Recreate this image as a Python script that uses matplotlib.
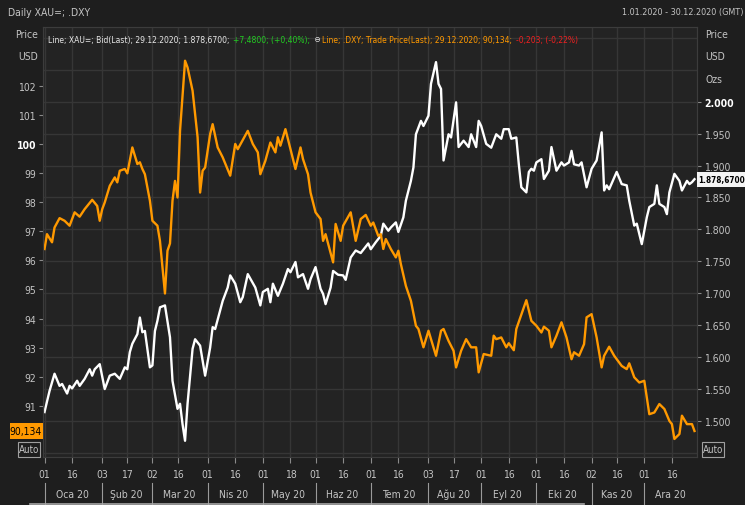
import matplotlib
matplotlib.use("Agg")
import matplotlib.pyplot as plt
import pandas as pd
from matplotlib.patches import Rectangle
from matplotlib.transforms import blended_transform_factory

# trading day number in 2020 (0 = 1 Jan) -> level
dxy_day = [0, 1, 3, 4, 6, 8, 10, 12, 14, 16,
           19, 21, 22, 23, 24, 26, 28, 29, 30, 32,
           33, 35, 37, 38, 39, 40, 42, 43, 45, 46,
           47, 48, 49, 50, 51, 52, 53, 54, 56, 57,
           59, 61, 62, 63, 64, 66, 67, 69, 71, 74,
           76, 77, 81, 83, 85, 86, 88, 90, 92, 93,
           94, 96, 98, 100, 102, 103, 105, 106, 108, 110,
           111, 112, 115, 116, 118, 119, 122, 124, 126, 128,
           130, 131, 133, 134, 135, 136, 138, 140, 141, 142,
           144, 146, 148, 149, 151, 153, 156, 158, 159, 161,
           163, 164, 166, 168, 170, 172, 173, 175, 178, 179,
           180, 182, 184, 185, 187, 188, 191, 192, 194, 196,
           198, 199, 201, 202, 204, 206, 208, 210, 211, 213,
           215, 216, 218, 220, 222, 223, 225, 227, 230, 232,
           233, 235, 237, 239, 240, 241, 243, 245, 247, 249,
           250, 251, 253, 254, 256, 258, 259]
dxy_val = [96.39, 96.90, 96.62, 97.13, 97.45, 97.36, 97.19, 97.65, 97.50, 97.76,
           98.08, 97.87, 97.36, 97.76, 97.99, 98.56, 98.85, 98.68, 99.08, 99.14,
           98.99, 99.88, 99.31, 99.37, 99.14, 98.96, 98.05, 97.36, 97.19, 96.67,
           95.76, 94.86, 96.33, 96.58, 98.05, 98.73, 98.16, 100.45, 102.86, 102.63,
           101.83, 100.23, 98.33, 99.08, 99.19, 100.34, 100.68, 99.88, 99.54, 98.91,
           100.00, 99.82, 100.45, 100.00, 99.71, 98.96, 99.42, 100.05, 99.71, 100.23,
           99.94, 100.51, 99.82, 99.14, 99.88, 99.48, 98.96, 98.33, 97.65, 97.42,
           96.67, 96.90, 95.93, 97.25, 96.67, 97.19, 97.65, 96.67, 97.42, 97.56,
           97.19, 97.30, 96.84, 96.90, 96.39, 96.73, 96.39, 96.10, 96.33, 95.87,
           95.12, 94.61, 93.75, 93.64, 93.01, 93.58, 92.72, 93.58, 93.64, 93.23,
           92.89, 92.32, 92.89, 93.29, 93.01, 93.01, 92.15, 92.78, 92.72, 93.41,
           93.29, 93.35, 93.01, 93.15, 92.91, 93.64, 94.38, 94.63, 93.92, 93.75,
           93.52, 93.72, 93.58, 93.01, 93.41, 93.87, 93.35, 92.60, 92.84, 92.72,
           93.12, 94.04, 94.15, 93.35, 92.32, 92.72, 93.03, 92.72, 92.37, 92.26,
           92.46, 91.98, 91.80, 91.86, 91.29, 90.71, 90.77, 91.06, 90.89, 90.48,
           90.37, 89.86, 90.03, 90.66, 90.37, 90.37, 90.134]

xau_day = [0, 2, 4, 6, 7, 9, 10, 11, 13, 14,
           16, 18, 19, 20, 22, 24, 26, 28, 30, 32,
           33, 34, 35, 37, 38, 39, 40, 42, 43, 44,
           45, 46, 48, 50, 51, 53, 54, 55, 56, 57,
           59, 60, 62, 64, 66, 67, 68, 71, 73, 74,
           76, 78, 79, 81, 84, 86, 87, 89, 90, 91,
           93, 95, 97, 98, 100, 101, 103, 105, 106, 108,
           110, 111, 112, 114, 115, 117, 119, 120, 122, 124,
           126, 128, 129, 130, 132, 134, 135, 137, 138, 140,
           141, 143, 144, 146, 147, 148, 150, 151, 153, 154,
           156, 157, 158, 159, 161, 162, 164, 165, 167, 169,
           170, 172, 173, 174, 176, 178, 180, 182, 183, 185,
           186, 188, 189, 190, 192, 193, 194, 195, 196, 198,
           199, 201, 202, 204, 206, 207, 209, 210, 211, 213,
           214, 216, 218, 220, 222, 223, 224, 225, 228, 230,
           232, 233, 235, 236, 237, 238, 240, 241, 243, 244,
           245, 247, 248, 249, 251, 253, 254, 256, 257, 258,
           259]
xau_val = [1514, 1547, 1574, 1555, 1558, 1543, 1555, 1551, 1563, 1555,
           1566, 1581, 1571, 1581, 1589, 1550, 1571, 1574, 1566, 1584,
           1581, 1608, 1621, 1636, 1662, 1639, 1641, 1584, 1587, 1641,
           1657, 1678, 1681, 1631, 1563, 1519, 1527, 1495, 1469, 1527,
           1613, 1628, 1618, 1571, 1615, 1647, 1644, 1688, 1709, 1728,
           1715, 1686, 1694, 1730, 1709, 1681, 1702, 1707, 1686, 1715,
           1696, 1715, 1738, 1733, 1749, 1725, 1730, 1707, 1722, 1741,
           1707, 1699, 1683, 1709, 1735, 1729, 1728, 1721, 1756, 1767,
           1763, 1773, 1778, 1769, 1780, 1790, 1809, 1798, 1803, 1811,
           1796, 1819, 1845, 1876, 1897, 1949, 1970, 1962, 1978, 2028,
           2062, 2028, 2020, 1908, 1949, 1944, 1999, 1929, 1939, 1929,
           1949, 1929, 1970, 1962, 1934, 1928, 1949, 1942, 1957, 1957,
           1942, 1944, 1902, 1866, 1858, 1890, 1895, 1892, 1905, 1910,
           1879, 1892, 1929, 1892, 1905, 1900, 1905, 1923, 1902, 1900,
           1905, 1866, 1895, 1908, 1952, 1861, 1869, 1863, 1890, 1871,
           1869, 1845, 1806, 1809, 1793, 1777, 1819, 1835, 1840, 1869,
           1840, 1835, 1824, 1858, 1887, 1876, 1861, 1876, 1871, 1874,
           1878.67]

tick_dates = ['2020-01-01', '2020-01-16', '2020-02-03', '2020-02-17', '2020-03-02',
              '2020-03-16', '2020-04-01', '2020-04-16', '2020-05-01', '2020-05-18',
              '2020-06-01', '2020-06-16', '2020-07-01', '2020-07-16', '2020-08-03',
              '2020-08-17', '2020-09-01', '2020-09-16', '2020-10-01', '2020-10-16',
              '2020-11-02', '2020-11-16', '2020-12-01', '2020-12-16']
month_names = ['Oca 20', 'Şub 20', 'Mar 20', 'Nis 20', 'May 20', 'Haz 20',
               'Tem 20', 'Ağu 20', 'Eyl 20', 'Eki 20', 'Kas 20', 'Ara 20']
dxy_ticks = [91, 92, 93, 94, 95, 96, 97, 98, 99, 100, 101, 102]
xau_ticks = [1500, 1550, 1600, 1650, 1700, 1750, 1800, 1850, 1900, 1950, 2000]

BG = '#1e1e1e'
PLOT_BG = '#232323'
GRID = '#363636'
TXT = '#c4c4c4'
ORANGE = '#ff9900'
FS = 7.5
plt.rcParams['font.family'] = ['DejaVu Sans', 'Liberation Sans']
plt.rcParams['font.stretch'] = 'condensed'

W, H = 745, 506
days = pd.bdate_range('2020-01-01', '2020-12-30')


def fx(px):
    return px / W


def fy(py):
    return 1 - py / H


def tr_num(v, dec=0):
    s = f"{v:,.{dec}f}"
    return s.replace(',', '#').replace('.', ',').replace('#', '.')


fig = plt.figure(figsize=(W / 100, H / 100), dpi=100, facecolor=BG)

# main axes carries gold (right scale + grid), twin carries the dollar index
ax = fig.add_axes([fx(43), fy(458), fx(697) - fx(43), fy(28) - fy(458)])
ax.set_facecolor(PLOT_BG)
ax.set_xlim(-0.6, 260)
ax.set_ylim(1443.6, 2117)
ax2 = ax.twinx()
ax2.set_ylim(89.24, 104.02)

ax.plot(xau_day, xau_val, color='white', lw=1.7, solid_joinstyle='round')
ax2.plot(dxy_day, dxy_val, color=ORANGE, lw=1.7, solid_joinstyle='round')

# x axis: trading-day positions
tick_pos = [days.get_loc(pd.Timestamp(d)) for d in tick_dates]
ax.set_xticks(tick_pos)
ax.set_xticklabels([d[-2:] for d in tick_dates])
ax.tick_params(axis='x', length=4, color='#8a8a8a', labelcolor=TXT,
               labelsize=FS, pad=5)

# right scale
ax.yaxis.tick_right()
ax.set_yticks(xau_ticks)
ax.set_yticklabels([tr_num(v) for v in xau_ticks])
ax.tick_params(axis='y', length=3, color='#8a8a8a', labelcolor=TXT,
               labelsize=FS, pad=2)
ax.get_yticklabels()[-1].set_color('white')
ax.get_yticklabels()[-1].set_fontweight('bold')

# left scale
ax2.yaxis.tick_left()
ax2.set_yticks(dxy_ticks)
ax2.set_yticklabels([str(v) for v in dxy_ticks])
ax2.tick_params(axis='y', length=3, color='#8a8a8a', labelcolor=TXT,
                labelsize=FS, pad=2)
lab100 = ax2.get_yticklabels()[dxy_ticks.index(100)]
lab100.set_color('white')
lab100.set_fontweight('bold')

ax.grid(True, color=GRID, lw=1)
ax.set_axisbelow(True)
for v in (1450, 2050, 2100):
    ax.axhline(v, color=GRID, lw=1, zorder=0.5)
for a in (ax, ax2):
    for sp in a.spines.values():
        sp.set_color('#3c3c3c')

# month row under the day numbers
month_start = [days.get_indexer([days[days.month == m][0]])[0] for m in range(1, 13)]
edges = month_start + [len(days)]
trans = blended_transform_factory(ax.transData, fig.transFigure)
for i, name in enumerate(month_names):
    ax.plot([month_start[i]] * 2, [fy(484), fy(505)], transform=trans,
            color='#9a9a9a', lw=0.8, clip_on=False)
    ax.text((edges[i] + edges[i + 1] - 1) / 2, fy(495), name, transform=trans,
            ha='center', va='center', color=TXT, fontsize=FS)

# header
fig.text(fx(8), fy(13), 'Daily XAU=; .DXY', color=TXT, fontsize=7.5, va='center')
fig.text(fx(743), fy(13), '1.01.2020 - 30.12.2020 (GMT)', color=TXT,
         fontsize=6.5, va='center', ha='right')
fig.text(fx(38), fy(35), 'Price', color=TXT, fontsize=FS, ha='right', va='center')
fig.text(fx(38), fy(57), 'USD', color=TXT, fontsize=FS, ha='right', va='center')
for txt, y in (('Price', 35), ('USD', 57), ('Ozs', 80)):
    fig.text(fx(705), fy(y), txt, color=TXT, fontsize=FS, va='center')

# legend line inside the plot
parts = [('Line; XAU=; Bid(Last); 29.12.2020; 1.878,6700; ', '#e6e6e6'),
         ('+7,4800; (+0,40%);', '#22cc22'),
         (' \u2296', '#e6e6e6'),
         ('Line; .DXY; Trade Price(Last); 29.12.2020; 90,134; ', ORANGE),
         ('-0,203; (-0,22%)', '#ee2020')]
t = fig.text(fx(48), fy(40), parts[0][0], color=parts[0][1], fontsize=6.1,
             va='center')
for s, c in parts[1:]:
    t = ax.annotate(s, xy=(1, 0.5), xycoords=t, xytext=(1, 0),
                    textcoords='offset points', va='center', color=c,
                    fontsize=6.1, annotation_clip=False)

# last value boxes
ltrans = blended_transform_factory(fig.transFigure, ax2.transData)
fig.patches.append(Rectangle((fx(10), dxy_val[-1] - 0.26), fx(43) - fx(10), 0.52,
                             transform=ltrans, facecolor=ORANGE, edgecolor='none',
                             zorder=5))
fig.text(fx(42), dxy_val[-1], tr_num(dxy_val[-1], 3), transform=ltrans,
         ha='right', va='center', color='black', fontsize=FS, zorder=6)
rtrans = blended_transform_factory(fig.transFigure, ax.transData)
fig.patches.append(Rectangle((fx(697), xau_val[-1] - 12), fx(745) - fx(697), 24,
                             transform=rtrans, facecolor='#f4f4f4', edgecolor='none',
                             zorder=5))
fig.text(fx(698), xau_val[-1], tr_num(xau_val[-1], 4), transform=rtrans,
         ha='left', va='center', color='black', fontsize=5.9, fontweight='bold',
         zorder=6)

# "Auto" buttons
for x0 in (18, 702):
    fig.patches.append(Rectangle((fx(x0), fy(458)), fx(22), 15 / H,
                                 transform=fig.transFigure, facecolor=BG,
                                 edgecolor='#a0a0a0', lw=0.8))
    fig.text(fx(x0 + 11), fy(450.5), 'Auto', color=TXT, fontsize=7,
             ha='center', va='center')

# scroll bar strip along the bottom edge
fig.add_artist(plt.Line2D([fx(30), fx(584)], [fy(504.5), fy(504.5)],
                          color='#a8a8a8', lw=1.2))

fig.savefig('out.png', dpi=100, facecolor=BG)
